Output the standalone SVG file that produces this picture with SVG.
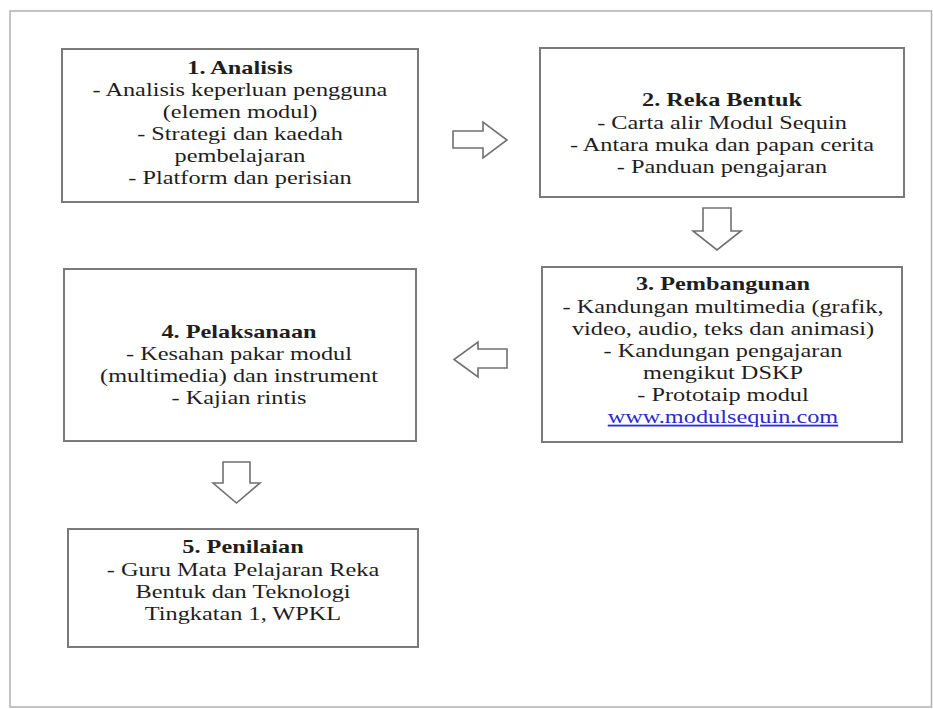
<svg xmlns="http://www.w3.org/2000/svg" width="933" height="709" viewBox="0 0 933 709">
<style>
.frame{fill:#fff;stroke:#b0b0b0;stroke-width:1.5}
.box{fill:#fff;stroke:#7a7a7a;stroke-width:2}
.arr{fill:#fff;stroke:#707070;stroke-width:1.6;stroke-linejoin:miter}
text{font-family:'Liberation Serif','Times New Roman','DejaVu Serif',serif;font-size:18px;fill:#1e1e1e;text-anchor:middle}
.t{font-weight:bold}
.url{fill:#2a2ad0;text-decoration:underline}
</style>
<rect class="frame" x="10" y="11" width="921.5" height="696"/>
<g id="node1" font-family="Liberation Serif, serif">
<rect class="box" x="62" y="49" width="356" height="153"/>
<g transform="translate(240,0) scale(1.35,1)">
<text class="t" x="0" y="74">1. Analisis</text>
<text x="0" y="96">- Analisis keperluan pengguna</text>
<text x="0" y="118">(elemen modul)</text>
<text x="0" y="140">- Strategi dan kaedah</text>
<text x="0" y="162">pembelajaran</text>
<text x="0" y="184">- Platform dan perisian</text>
</g>
</g>
<g id="node2">
<rect class="box" x="540" y="48" width="364" height="149"/>
<g transform="translate(722,0) scale(1.35,1)">
<text class="t" x="0" y="106">2. Reka Bentuk</text>
<text x="0" y="129">- Carta alir Modul Sequin</text>
<text x="0" y="151">- Antara muka dan papan cerita</text>
<text x="0" y="173">- Panduan pengajaran</text>
</g>
</g>
<g id="node3">
<rect class="box" x="542" y="267" width="360" height="175"/>
<g transform="translate(723,0) scale(1.35,1)">
<text class="t" x="0" y="290">3. Pembangunan</text>
<text x="0" y="313">- Kandungan multimedia (grafik,</text>
<text x="0" y="335">video, audio, teks dan animasi)</text>
<text x="0" y="357">- Kandungan pengajaran</text>
<text x="0" y="379">mengikut DSKP</text>
<text x="0" y="401">- Prototaip modul</text>
<text class="url" x="0" y="423">www.modulsequin.com</text>
</g>
</g>
<g id="node4">
<rect class="box" x="64" y="269" width="352" height="172"/>
<g transform="translate(239,0) scale(1.35,1)">
<text class="t" x="0" y="338">4. Pelaksanaan</text>
<text x="0" y="360">- Kesahan pakar modul</text>
<text x="0" y="382">(multimedia) dan instrument</text>
<text x="0" y="404">- Kajian rintis</text>
</g>
</g>
<g id="node5">
<rect class="box" x="68" y="529" width="350" height="118"/>
<g transform="translate(243,0) scale(1.35,1)">
<text class="t" x="0" y="553">5. Penilaian</text>
<text x="0" y="576">- Guru Mata Pelajaran Reka</text>
<text x="0" y="598">Bentuk dan Teknologi</text>
<text x="0" y="620">Tingkatan 1, WPKL</text>
</g>
</g>
<g id="connectors">
<path class="arr" d="M453,131 L483,131 L483,122 L507,140 L483,158 L483,148 L453,148 Z"/>
<path class="arr" d="M703,208 L731,208 L731,231 L741,231 L717,250 L693,231 L703,231 Z"/>
<path class="arr" d="M507,349 L478,349 L478,342 L454,359.5 L478,377 L478,368 L507,368 Z"/>
<path class="arr" d="M223,462 L250,462 L250,483 L260,483 L236.5,503 L213,483 L223,483 Z"/>
</g>
</svg>
